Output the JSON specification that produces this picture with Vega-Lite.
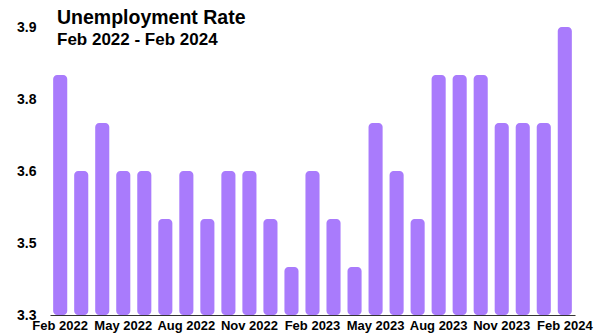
{
  "$schema": "https://vega.github.io/schema/vega-lite/v6.json",
  "width": 525,
  "height": 288,
  "autosize": {"type": "none"},
  "padding": {"left": 50, "top": 27, "right": 30, "bottom": 21},
  "background": "white",
  "title": {
    "text": "Unemployment Rate",
    "subtitle": "Feb 2022 - Feb 2024",
    "anchor": "start",
    "frame": "group",
    "orient": "top",
    "offset": -29,
    "dx": 7,
    "font": "Liberation Sans",
    "fontSize": 19.5,
    "fontWeight": "bold",
    "color": "#000000",
    "subtitleFont": "Liberation Sans",
    "subtitleFontSize": 17,
    "subtitleFontWeight": "bold",
    "subtitleColor": "#000000",
    "subtitlePadding": 4
  },
  "data": {
    "values": [
      {"month": "Feb 2022", "rate": 3.8},
      {"month": "Mar 2022", "rate": 3.6},
      {"month": "Apr 2022", "rate": 3.7},
      {"month": "May 2022", "rate": 3.6},
      {"month": "Jun 2022", "rate": 3.6},
      {"month": "Jul 2022", "rate": 3.5},
      {"month": "Aug 2022", "rate": 3.6},
      {"month": "Sep 2022", "rate": 3.5},
      {"month": "Oct 2022", "rate": 3.6},
      {"month": "Nov 2022", "rate": 3.6},
      {"month": "Dec 2022", "rate": 3.5},
      {"month": "Jan 2023", "rate": 3.4},
      {"month": "Feb 2023", "rate": 3.6},
      {"month": "Mar 2023", "rate": 3.5},
      {"month": "Apr 2023", "rate": 3.4},
      {"month": "May 2023", "rate": 3.7},
      {"month": "Jun 2023", "rate": 3.6},
      {"month": "Jul 2023", "rate": 3.5},
      {"month": "Aug 2023", "rate": 3.8},
      {"month": "Sep 2023", "rate": 3.8},
      {"month": "Oct 2023", "rate": 3.8},
      {"month": "Nov 2023", "rate": 3.7},
      {"month": "Dec 2023", "rate": 3.7},
      {"month": "Jan 2024", "rate": 3.7},
      {"month": "Feb 2024", "rate": 3.9}
    ]
  },
  "mark": {"type": "bar", "color": "#a97bfc", "cornerRadius": 4},
  "encoding": {
    "x": {
      "field": "month",
      "type": "nominal",
      "sort": null,
      "scale": {"paddingInner": 0.33, "paddingOuter": 0.15},
      "axis": {
        "title": null,
        "values": ["Feb 2022", "May 2022", "Aug 2022", "Nov 2022", "Feb 2023", "May 2023", "Aug 2023", "Nov 2023", "Feb 2024"],
        "labelAngle": 0,
        "ticks": false,
        "domain": true,
        "domainColor": "#333333",
        "domainWidth": 1,
        "labelFont": "Liberation Sans",
        "labelFontSize": 13,
        "labelFontWeight": "bold",
        "labelColor": "#000000",
        "labelPadding": 4
      }
    },
    "y": {
      "field": "rate",
      "type": "quantitative",
      "scale": {"domain": [3.3, 3.9], "zero": false, "nice": false},
      "axis": {
        "title": null,
        "values": [3.3, 3.45, 3.6, 3.75, 3.9],
        "format": ".1f",
        "grid": false,
        "ticks": false,
        "domain": false,
        "labelFont": "Liberation Sans",
        "labelFontSize": 14,
        "labelFontWeight": "bold",
        "labelColor": "#000000",
        "labelPadding": 14
      }
    },
    "y2": {"datum": 3.3}
  },
  "config": {"view": {"stroke": null}}
}
